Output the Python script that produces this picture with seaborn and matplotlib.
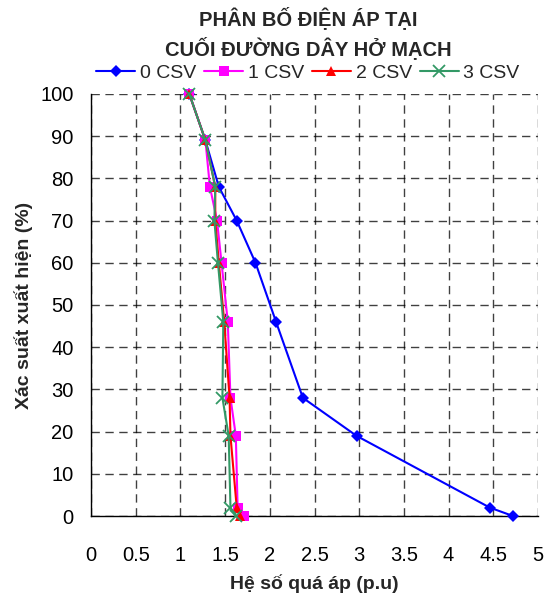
import matplotlib
matplotlib.use("Agg")
import matplotlib.pyplot as plt
import seaborn as sns
import pandas as pd

prob = [100, 89, 78, 70, 60, 46, 28, 19, 2, 0]
csv0 = [1.10, 1.28, 1.43, 1.63, 1.84, 2.07, 2.37, 2.97, 4.46, 4.72]
csv1 = [1.10, 1.28, 1.33, 1.41, 1.46, 1.53, 1.56, 1.62, 1.64, 1.71]
csv2 = [1.10, 1.28, 1.39, 1.39, 1.43, 1.49, 1.55, 1.56, 1.63, 1.67]
csv3 = [1.10, 1.28, 1.39, 1.38, 1.42, 1.48, 1.47, 1.54, 1.56, 1.62]
series_names = ["0 CSV", "1 CSV", "2 CSV", "3 CSV"]
x_ticks = [0, 0.5, 1, 1.5, 2, 2.5, 3, 3.5, 4, 4.5, 5]
x_tick_labels = ["0", "0.5", "1", "1.5", "2", "2.5", "3", "3.5", "4", "4.5", "5"]
y_ticks = [0, 10, 20, 30, 40, 50, 60, 70, 80, 90, 100]

sns.set_theme(style="white")
plt.rcParams["font.family"] = ["Liberation Sans", "DejaVu Sans"]

fig = plt.figure(figsize=(5.45, 5.96), dpi=100)
ax = fig.add_axes([91 / 545, 80 / 596, 447 / 545, 422 / 596])

styles = [
    dict(color="#0000FF", marker="D", markersize=6, mew=0),
    dict(color="#FF00FF", marker="s", markersize=6.5, mew=0),
    dict(color="#FF0000", marker="^", markersize=7, mew=0),
    dict(color="#339966", marker="x", markersize=8, mew=1.3),
]
for name, vals, st in zip(series_names, [csv0, csv1, csv2, csv3], styles):
    df = pd.DataFrame({"x": vals, "y": prob})
    sns.lineplot(data=df, x="x", y="y", sort=False, ax=ax, label=name,
                 color=st["color"], marker=st["marker"], markersize=st["markersize"],
                 markeredgewidth=st["mew"], markeredgecolor=st["color"],
                 linewidth=1.5, estimator=None, clip_on=False, zorder=3)

ax.set_xlim(0, 5)
ax.set_ylim(0, 100)
ax.set_xticks(x_ticks)
ax.set_xticklabels(x_tick_labels)
ax.set_yticks(y_ticks)
ax.grid(True, color="black", linestyle=(0, (6, 4)), linewidth=1.0, alpha=0.75)
for s in ["top", "right"]:
    ax.spines[s].set_visible(False)
for s in ["left", "bottom"]:
    ax.spines[s].set_color("black")
    ax.spines[s].set_linewidth(1.0)
ax.tick_params(axis="both", direction="inout", length=9, width=1, color="black",
               labelsize=14.5, labelcolor="black")
ax.tick_params(axis="x", pad=17)
ax.tick_params(axis="y", pad=8)
ax.set_xlabel("Hệ số quá áp (p.u)", fontsize=14, fontweight="bold", labelpad=7)
ax.set_ylabel("Xác suất xuất hiện (%)", fontsize=14, fontweight="bold", labelpad=5)

ax.legend(loc="center", bbox_to_anchor=(308 / 545, 1 - 73 / 596),
          bbox_transform=fig.transFigure, ncol=4, frameon=False,
          fontsize=14, handlelength=2.0, handletextpad=0.25, columnspacing=0.4,
          borderpad=0.1)

title_font = ["Liberation Sans", "DejaVu Sans"]
fig.text(308 / 545, 1 - 18 / 596, "PHÂN BỐ ĐIỆN ÁP TẠI", ha="center", va="center",
         fontsize=14.5, fontweight="bold", family=title_font)
fig.text(308 / 545, 1 - 48 / 596, "CUỐI ĐƯỜNG DÂY HỞ MẠCH", ha="center", va="center",
         fontsize=14.5, fontweight="bold", family=title_font)

fig.savefig("out.png", dpi=100)
